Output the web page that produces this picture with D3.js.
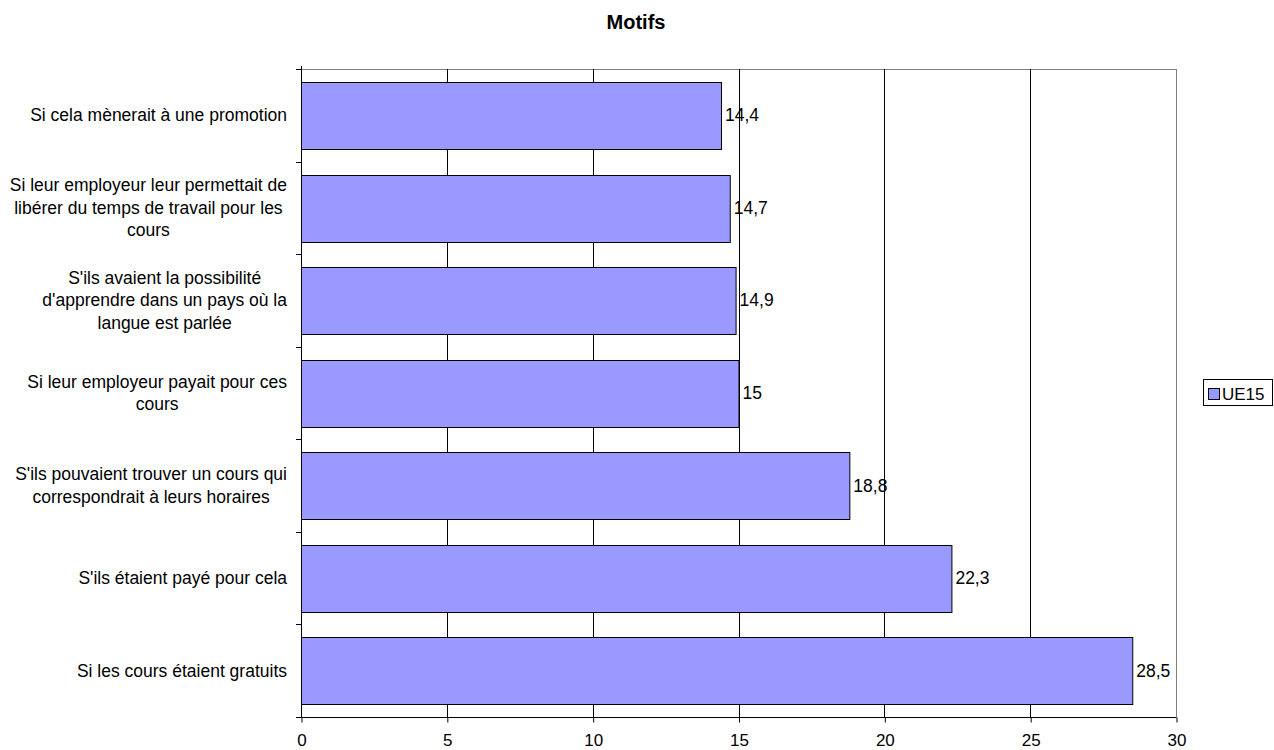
<!DOCTYPE html>
<html><head><meta charset="utf-8">
<script src="https://cdn.jsdelivr.net/npm/d3@7"></script>
<style>body{margin:0;background:#fff}svg{display:block;font-family:"Liberation Sans",Arial,sans-serif}</style>
</head><body>
<svg id="c" width="1274" height="750"></svg>
<script>
const categories = [
  ["Si cela mènerait à une promotion"],
  ["Si leur employeur leur permettait de","libérer du temps de travail pour les","cours"],
  ["S'ils avaient la possibilité","d'apprendre dans un pays où la","langue est parlée"],
  ["Si leur employeur payait pour ces","cours"],
  ["S'ils pouvaient trouver un cours qui","correspondrait à leurs horaires"],
  ["S'ils étaient payé pour cela"],
  ["Si les cours étaient gratuits"]
];
const values = [14.4, 14.7, 14.9, 15, 18.8, 22.3, 28.5];
const valueLabels = ["14,4","14,7","14,9","15","18,8","22,3","28,5"];
const xTicks = [0,5,10,15,20,25,30];
const seriesName = "UE15";
const title = "Motifs";

const FS = 17.5;
const svg = d3.select("#c");
const L = 301, R = 1176, T = 69, B = 717;
const x = d3.scaleLinear().domain([0,30]).range([L,R]);
const y = d3.scaleBand().domain(d3.range(categories.length)).range([T,B]).paddingInner(0.28).paddingOuter(0.14);
const yb = d3.scaleBand().domain(d3.range(categories.length)).range([T,B]);

svg.append("text").attr("x",636).attr("y",29).attr("text-anchor","middle")
  .attr("font-size",20).attr("font-weight","bold").text(title);

// plot border
svg.append("line").attr("x1",L).attr("x2",R).attr("y1",T+0.5).attr("y2",T+0.5).attr("stroke","#808080");
svg.append("line").attr("x1",R+0.5).attr("x2",R+0.5).attr("y1",T).attr("y2",B).attr("stroke","#808080");
// gridlines
svg.append("g").selectAll("line").data(xTicks.slice(1,-1)).join("line")
  .attr("x1",d=>Math.round(x(d))+0.5).attr("x2",d=>Math.round(x(d))+0.5)
  .attr("y1",T).attr("y2",B).attr("stroke","#000");

// bars
svg.append("g").selectAll("rect").data(values).join("rect")
  .attr("x",x(0)+0.5).attr("y",(d,i)=>Math.round(y(i))+0.5)
  .attr("width",d=>x(d)-x(0)).attr("height",Math.round(y.bandwidth()))
  .attr("fill","#9999FF").attr("stroke","#000").attr("stroke-width",1);

// value labels
svg.append("g").selectAll("text").data(values).join("text")
  .attr("x",d=>x(d)+4).attr("y",(d,i)=>y(i)+y.bandwidth()/2+6)
  .attr("font-size",FS).text((d,i)=>valueLabels[i]);

// x axis
const xa = svg.append("g").attr("transform",`translate(0.5,${B+0.5})`)
  .call(d3.axisBottom(x).tickValues(xTicks).tickSize(5).tickPadding(0).tickFormat(d=>d));
xa.select(".domain").attr("d",`M${L-5},0H${R}`).attr("stroke","#000");
xa.selectAll("text").attr("font-size",17).attr("dy",null).attr("y",28)
  .attr("font-family","Liberation Sans, Arial, sans-serif").attr("fill","#000");
xa.selectAll(".tick line").attr("stroke","#000");

// y axis
svg.append("line").attr("x1",L+0.5).attr("x2",L+0.5).attr("y1",T-3).attr("y2",B).attr("stroke","#000");
svg.append("g").selectAll("line").data(d3.range(categories.length+1)).join("line")
  .attr("x1",L-5).attr("x2",L).attr("y1",i=>Math.round(i<categories.length?yb(i):B)+0.5).attr("y2",i=>Math.round(i<categories.length?yb(i):B)+0.5)
  .attr("stroke","#000");

// category labels
const lh = 22.5;
categories.forEach((lines,i)=>{
  const g = svg.append("g");
  const cy = y(i)+y.bandwidth()/2;
  const texts = lines.map((t,j)=>g.append("text").attr("font-size",FS).attr("text-anchor","middle")
    .attr("y",cy + (j-(lines.length-1)/2)*lh + 6).text(t));
  const maxW = d3.max(texts,t=>t.node().getComputedTextLength());
  texts.forEach(t=>t.attr("x",287-maxW/2));
});

// legend
svg.append("rect").attr("x",1203.5).attr("y",379.5).attr("width",69).attr("height",26).attr("fill","#fff").attr("stroke","#000");
svg.append("rect").attr("x",1208.5).attr("y",388.5).attr("width",11).attr("height",11).attr("fill","#9999FF").attr("stroke","#000");
svg.append("text").attr("x",1222).attr("y",400).attr("font-size",17).text(seriesName);
</script>
</body></html>
